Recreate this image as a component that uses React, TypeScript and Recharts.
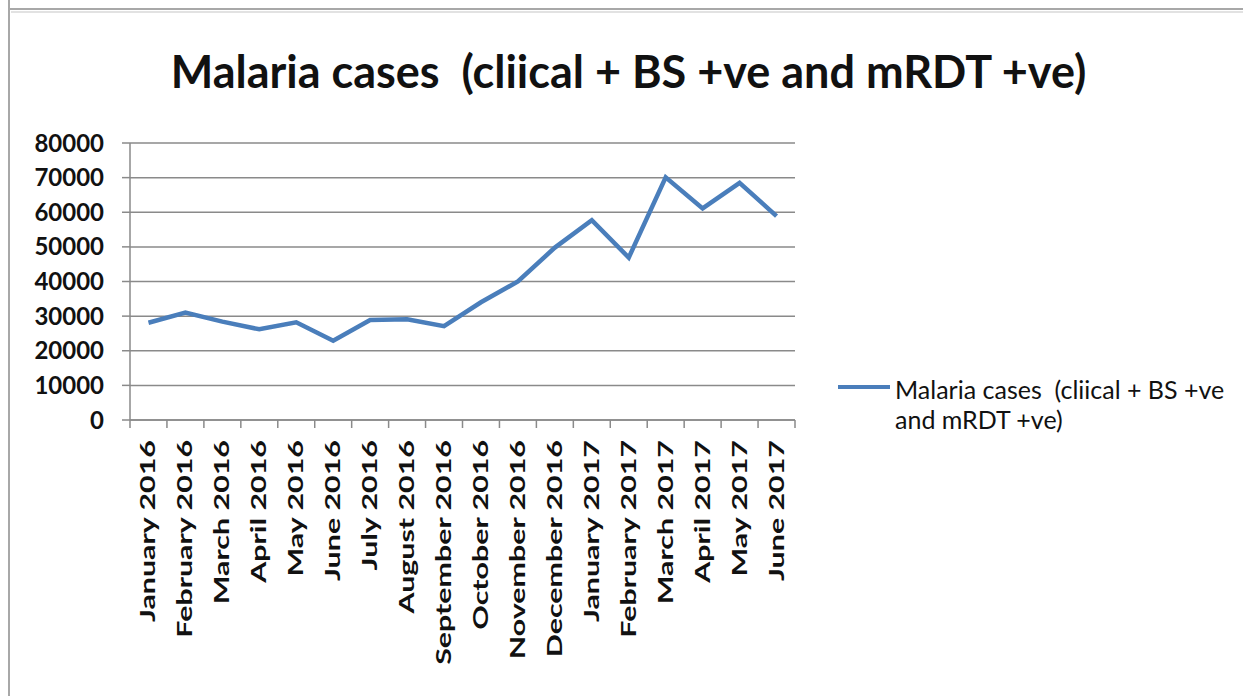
import { CartesianGrid, Legend, Line, LineChart, XAxis, YAxis } from 'recharts'

const SERIES_NAME = 'Malaria cases  (cliical + BS +ve and mRDT +ve)'

const months = [
  'January 2016',
  'February 2016',
  'March 2016',
  'April 2016',
  'May 2016',
  'June 2016',
  'July 2016',
  'August 2016',
  'September 2016',
  'October 2016',
  'November 2016',
  'December 2016',
  'January 2017',
  'February 2017',
  'March 2017',
  'April 2017',
  'May 2017',
  'June 2017'
]

const cases = [
  28100, 31000, 28400, 26200, 28200, 22900, 28900, 29100, 27100, 34000, 40000,
  49800, 57700, 46900, 70100, 61100, 68500, 58900
]

const yTicks = [0, 10000, 20000, 30000, 40000, 50000, 60000, 70000, 80000]

const W = 1243
const H = 696
const MARGIN = { top: 143, right: 448, left: 0, bottom: 26 }
const Y_AXIS_W = 130
const X_AXIS_H = 250
const PLOT_W = W - MARGIN.right - MARGIN.left - Y_AXIS_W
const HALF_BAND = PLOT_W / months.length / 2

const LINE_COLOR = '#4A7EBB'
const GRID_COLOR = '#8a8a8a'
const FONT = 'Lato, "Open Sans", sans-serif'

const data = months.map((m, i) => ({ month: m, value: cases[i] }))

// excel puts the x tick marks between categories, not under them
function MonthTick(props: any) {
  const { x, y, payload, index, visibleTicksCount } = props
  const top = y - 18
  const last = index === visibleTicksCount - 1
  return (
    <g>
      <line x1={x - HALF_BAND} x2={x - HALF_BAND} y1={top} y2={top + 8} stroke={GRID_COLOR} strokeWidth={1.5} />
      {last && (
        <line x1={x + HALF_BAND} x2={x + HALF_BAND} y1={top} y2={top + 8} stroke={GRID_COLOR} strokeWidth={1.5} />
      )}
      <text
        transform={`translate(${x + 7},${y + 2}) rotate(-90) scale(1.52,1)`}
        textAnchor="end"
        fontFamily={FONT}
        fontWeight={700}
        fontSize={20}
        fill="#111"
      >
        {payload.value}
      </text>
    </g>
  )
}

function LegendBox() {
  return (
    <div style={{ display: 'flex', alignItems: 'flex-start', fontFamily: FONT }}>
      <div style={{ width: 52, height: 4, background: LINE_COLOR, marginTop: 11, marginRight: 5 }} />
      <div style={{ width: 345, fontSize: 25, lineHeight: '30px', color: '#111', whiteSpace: 'pre-wrap' }}>
        {SERIES_NAME}
      </div>
    </div>
  )
}

export default function App() {
  return (
    <div style={{ position: 'absolute', left: 0, top: 0, width: W, height: H, background: '#fff', overflow: 'hidden' }}>
      <div style={{ position: 'absolute', left: 8, top: 0, width: 2, height: H, background: '#a8a8a8' }} />
      <div style={{ position: 'absolute', left: 8, top: 8, width: W, height: 2, background: '#a8a8a8' }} />
      <div style={{ position: 'absolute', left: 11, top: 11, width: W, height: 2, background: '#e2e2e2' }} />
      <div
        style={{
          position: 'absolute',
          left: 0,
          top: 48,
          width: 1257,
          textAlign: 'center',
          fontFamily: FONT,
          fontWeight: 700,
          fontSize: 45,
          lineHeight: '46px',
          color: '#111',
          whiteSpace: 'pre'
        }}
      >
        {SERIES_NAME}
      </div>
      <div style={{ position: 'absolute', left: 0, top: 0 }}>
        <LineChart width={W} height={H} data={data} margin={MARGIN}>
          <CartesianGrid vertical={false} stroke={GRID_COLOR} strokeWidth={1.5} />
          <XAxis
            dataKey="month"
            scale="band"
            interval={0}
            height={X_AXIS_H}
            tickSize={8}
            tickMargin={10}
            tickLine={false}
            axisLine={{ stroke: GRID_COLOR, strokeWidth: 1.5 }}
            tick={<MonthTick />}
          />
          <YAxis
            width={Y_AXIS_W}
            domain={[0, 80000]}
            ticks={yTicks}
            interval={0}
            tickSize={8}
            tickMargin={18}
            axisLine={{ stroke: GRID_COLOR, strokeWidth: 1.5 }}
            tickLine={{ stroke: GRID_COLOR, strokeWidth: 1.5 }}
            tick={{ fontFamily: FONT, fontWeight: 700, fontSize: 24, fill: '#111' }}
          />
          <Legend
            layout="vertical"
            align="center"
            verticalAlign="middle"
            content={<LegendBox />}
            wrapperStyle={{ left: 838, top: 374, width: 405 }}
          />
          <Line
            type="linear"
            dataKey="value"
            name={SERIES_NAME}
            stroke={LINE_COLOR}
            strokeWidth={4.5}
            dot={false}
            isAnimationActive={false}
          />
        </LineChart>
      </div>
    </div>
  )
}
